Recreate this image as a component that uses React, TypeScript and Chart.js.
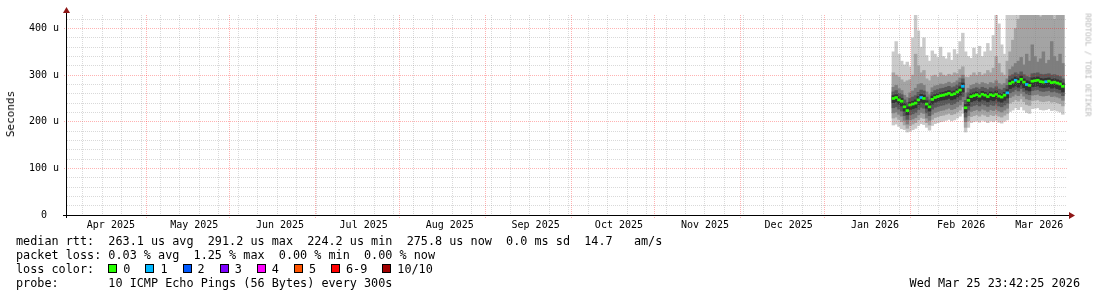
import React, { useEffect, useRef } from "react";
import { Chart, registerables } from "chart.js";

Chart.register(...registerables);

// ---- time axis (days from the left edge of the graph) ----
const axisStartDay = 0;
const axisEndDay = 360;
const monthLabels = [
  "Apr 2025", "May 2025", "Jun 2025", "Jul 2025", "Aug 2025", "Sep 2025",
  "Oct 2025", "Nov 2025", "Dec 2025", "Jan 2026", "Feb 2026", "Mar 2026",
];
const monthLabelDays = [15.8, 45.8, 76.7, 106.8, 137.8, 168.7, 198.7, 229.7, 259.8, 290.9, 321.9, 350.0];
const majorGridDays = [28.7, 58.4, 89.4, 119.6, 150.6, 181.6, 211.6, 242.5, 272.8, 303.7, 334.7];
const minorGridFirstDay = 5.65;
const minorGridStepDays = 7;
const minorGridCount = 51;

// ---- value axis (microseconds) ----
const yMax = 429;
const yGridStep = 20;
const yLabelStep = 100;
const yTopGrid = 420;

// ---- data: one column per day, starting at this day ----
const firstColumnDay = 297;

const median = [
  250, 252, 247, 244, 232, 224, 236, 238, 240, 247,
  252, 250, 238, 232, 248, 252, 254, 256, 257, 259,
  261, 258, 260, 264, 268, 276, 230, 246, 254, 256,
  258, 255, 259, 257, 254, 258, 256, 259, 255, 253,
  257, 262, 282, 285, 289, 286, 291, 285, 280, 278,
  287, 288, 289, 286, 285, 286, 287, 284, 285, 283,
  281, 276,
];
// pings lost (of 10) per column
const loss = [
  0, 0, 0, 0, 0, 0, 0, 0, 0, 0,
  1, 0, 0, 0, 0, 0, 0, 0, 0, 0,
  0, 0, 0, 0, 0, 1, 0, 0, 0, 0,
  0, 0, 0, 0, 0, 0, 0, 0, 0, 0,
  0, 1, 0, 0, 1, 0, 0, 0, 1, 0,
  0, 0, 0, 0, 0, 1, 0, 0, 0, 0,
  0, 0,
];
// sorted pings (ping1 = fastest ... ping10 = slowest)
const ping1 = [
  193, 195, 190, 185, 183, 178, 180, 183, 186, 192,
  196, 194, 188, 182, 192, 196, 198, 200, 201, 203,
  205, 202, 204, 208, 212, 218, 178, 188, 198, 200,
  202, 199, 203, 201, 198, 202, 200, 203, 199, 197,
  201, 204, 222, 225, 230, 226, 232, 225, 220, 218,
  228, 229, 230, 226, 225, 226, 228, 224, 225, 223,
  221, 216,
];
const ping2 = [
  208, 210, 205, 200, 193, 186, 192, 195, 198, 204,
  209, 207, 198, 193, 205, 209, 211, 213, 214, 216,
  218, 215, 217, 221, 225, 232, 188, 202, 211, 213,
  215, 212, 216, 214, 211, 215, 213, 216, 212, 210,
  214, 218, 240, 243, 247, 244, 249, 243, 237, 235,
  245, 246, 247, 244, 243, 244, 245, 242, 243, 241,
  239, 234,
];
const ping3 = [
  219, 221, 216, 212, 203, 195, 204, 206, 209, 215,
  220, 218, 208, 203, 216, 220, 222, 224, 225, 227,
  229, 226, 228, 232, 236, 243, 200, 213, 222, 224,
  226, 223, 227, 225, 222, 226, 224, 227, 223, 221,
  225, 229, 252, 255, 259, 256, 261, 255, 249, 247,
  257, 258, 259, 256, 255, 256, 257, 254, 255, 253,
  251, 246,
];
const ping4 = [
  230, 232, 227, 223, 213, 205, 215, 217, 220, 226,
  231, 229, 219, 213, 227, 231, 233, 235, 236, 238,
  240, 237, 239, 243, 247, 254, 210, 225, 233, 235,
  237, 234, 238, 236, 233, 237, 235, 238, 234, 232,
  236, 240, 262, 265, 269, 266, 271, 265, 260, 258,
  267, 268, 269, 266, 265, 266, 267, 264, 265, 263,
  261, 256,
];
const ping5 = [
  241, 243, 238, 234, 223, 215, 226, 228, 230, 237,
  242, 240, 229, 223, 238, 242, 244, 246, 247, 248,
  250, 247, 249, 253, 257, 264, 220, 235, 243, 245,
  247, 244, 248, 246, 243, 247, 245, 248, 244, 242,
  246, 251, 271, 274, 277, 274, 279, 273, 268, 266,
  275, 276, 277, 274, 273, 274, 275, 272, 273, 271,
  269, 264,
];
const ping6 = [
  256, 258, 253, 250, 239, 232, 242, 244, 247, 254,
  259, 257, 245, 239, 255, 258, 260, 262, 263, 265,
  267, 264, 266, 270, 275, 283, 237, 253, 260, 262,
  264, 261, 265, 263, 260, 264, 262, 266, 261, 259,
  263, 269, 289, 292, 296, 293, 298, 292, 288, 286,
  294, 295, 296, 293, 292, 293, 294, 291, 292, 290,
  288, 283,
];
const ping7 = [
  264, 267, 261, 258, 247, 241, 250, 253, 256, 263,
  268, 266, 253, 247, 263, 267, 269, 271, 272, 274,
  276, 273, 275, 279, 284, 292, 246, 262, 269, 271,
  273, 270, 274, 272, 269, 273, 271, 275, 270, 268,
  272, 278, 298, 301, 305, 302, 307, 301, 297, 295,
  303, 304, 305, 302, 301, 302, 303, 300, 301, 299,
  297, 292,
];
const ping8 = [
  274, 278, 271, 267, 257, 252, 262, 266, 272, 280,
  282, 278, 264, 258, 273, 277, 278, 281, 280, 282,
  285, 282, 284, 288, 294, 300, 262, 272, 278, 280,
  283, 280, 284, 282, 280, 284, 282, 288, 282, 279,
  282, 292, 312, 318, 325, 330, 338, 322, 345, 330,
  365, 340, 328, 335, 350, 325, 332, 372, 340, 330,
  345, 325,
];
const ping9 = [
  305, 300, 296, 290, 285, 288, 290, 300, 345, 320,
  305, 310, 292, 288, 298, 300, 296, 305, 300, 298,
  302, 300, 305, 303, 312, 318, 296, 295, 300, 305,
  300, 306, 300, 303, 310, 305, 315, 340, 325, 305,
  300, 330, 350, 375, 400, 420, 440, 440, 440, 440,
  440, 440, 440, 425, 440, 440, 440, 440, 420, 440,
  440, 440,
];
const ping10 = [
  350, 372, 345, 330, 322, 328, 318, 380, 430, 395,
  360, 380, 342, 330, 352, 345, 338, 360, 340, 335,
  348, 332, 355, 345, 372, 390, 350, 340, 336, 358,
  345, 362, 340, 350, 368, 352, 385, 430, 410, 365,
  345, 430, 440, 440, 440, 440, 440, 440, 440, 440,
  440, 440, 440, 440, 440, 440, 440, 440, 440, 440,
  440, 440,
];

// ---- legend texts ----
const medianLine = "median rtt:  263.1 us avg  291.2 us max  224.2 us min  275.8 us now  0.0 ms sd  14.7   am/s";
const lossLine = "packet loss: 0.03 % avg  1.25 % max  0.00 % min  0.00 % now";
const lossColorTitle = "loss color:";
const lossLabels = ["0", "1", "2", "3", "4", "5", "6-9", "10/10"];
const lossColors = ["#26ff00", "#00b8ff", "#0059ff", "#7e00ff", "#ff00ff", "#ff5500", "#ff0000", "#a10000"];
const probeLine = "probe:       10 ICMP Echo Pings (56 Bytes) every 300s";
const dateText = "Wed Mar 25 23:42:25 2026";
const yTitle = "Seconds";
const yUnitSuffix = " u";
const watermark = "RRDTOOL / TOBI OETIKER";

// ---- styles ----
const smokeGreys = ["#cacaca", "#a4a4a4", "#7e7e7e", "#585858", "#323232"];
const medianHalfThickness = 2.2; // in value units (µs)
const minorGridColor = "rgba(128,128,128,0.3)";
const majorGridColor = "rgba(255,0,0,0.3)";
const arrowColor = "#8e1616";
const mono = '"DejaVu Sans Mono", monospace';
const legendFontPx = 11.8;
const charW = 0.6021 * legendFontPx;

const W = 1097;
const H = 297;

const rrdGrid = {
  id: "rrdGrid",
  afterDatasetsDraw(chart: any) {
    const ctx = chart.ctx;
    const a = chart.chartArea;
    const xs = chart.scales.x;
    const ys = chart.scales.y;
    const align = (p: number) => Math.round(p - 0.5) + 0.5;
    ctx.save();
    ctx.lineWidth = 1;
    ctx.setLineDash([1, 1]);
    // horizontal lines
    for (let v = 0; v <= yTopGrid; v += yGridStep) {
      const major = v % yLabelStep === 0;
      const y = align(ys.getPixelForValue(v));
      ctx.strokeStyle = major ? majorGridColor : minorGridColor;
      ctx.beginPath();
      ctx.moveTo(major ? a.left - 3 : a.left, y);
      ctx.lineTo(a.right, y);
      ctx.stroke();
    }
    // vertical minor lines
    ctx.strokeStyle = minorGridColor;
    for (let k = 0; k < minorGridCount; k++) {
      const x = align(xs.getPixelForValue(minorGridFirstDay + k * minorGridStepDays));
      ctx.beginPath();
      ctx.moveTo(x, a.bottom + 1);
      ctx.lineTo(x, a.top);
      ctx.stroke();
    }
    // vertical major lines
    ctx.strokeStyle = majorGridColor;
    majorGridDays.forEach((d) => {
      const x = align(xs.getPixelForValue(d));
      ctx.beginPath();
      ctx.moveTo(x, a.bottom + 3);
      ctx.lineTo(x, a.top);
      ctx.stroke();
    });
    ctx.restore();
  },
};

const rrdAxes = {
  id: "rrdAxes",
  beforeDraw(chart: any) {
    const ctx = chart.ctx;
    ctx.save();
    ctx.fillStyle = "#ffffff";
    ctx.fillRect(0, 0, chart.width, chart.height);
    ctx.restore();
  },
  afterDraw(chart: any) {
    const ctx = chart.ctx;
    const a = chart.chartArea;
    ctx.save();
    ctx.strokeStyle = "#000";
    ctx.lineWidth = 1;
    ctx.beginPath();
    ctx.moveTo(a.left - 4, a.bottom + 0.5);
    ctx.lineTo(a.right + 2, a.bottom + 0.5);
    ctx.moveTo(a.left - 0.5, a.bottom + 3);
    ctx.lineTo(a.left - 0.5, a.top - 2);
    ctx.stroke();
    ctx.fillStyle = arrowColor;
    ctx.beginPath();
    ctx.moveTo(a.right + 2, a.bottom - 3);
    ctx.lineTo(a.right + 8, a.bottom + 0.5);
    ctx.lineTo(a.right + 2, a.bottom + 4);
    ctx.closePath();
    ctx.fill();
    ctx.beginPath();
    ctx.moveTo(a.left - 4, a.top - 2);
    ctx.lineTo(a.left - 0.5, a.top - 8);
    ctx.lineTo(a.left + 3, a.top - 2);
    ctx.closePath();
    ctx.fill();
    ctx.restore();
  },
};

export default function App() {
  const canvasRef = useRef<HTMLCanvasElement>(null);

  useEffect(() => {
    const canvas = canvasRef.current;
    if (!canvas) return;

    const columnDay = (i: number) => firstColumnDay + i + 0.5;
    const bands = [
      [ping1, ping10],
      [ping2, ping9],
      [ping3, ping8],
      [ping4, ping7],
      [ping5, ping6],
    ];
    const barCommon = {
      type: "bar" as const,
      borderWidth: 0,
      grouped: false,
      barPercentage: 1,
      categoryPercentage: 1,
    };
    const bandSets = bands.map(([lo, hi], k) => ({
      ...barCommon,
      label: `ping${k + 1}-ping${10 - k}`,
      data: lo.map((v, i) => ({ x: columnDay(i), y: [v, hi[i]] })),
      backgroundColor: smokeGreys[k],
      order: 10 - k,
    }));
    const medianSet = {
      ...barCommon,
      label: "median rtt",
      data: median.map((v, i) => ({ x: columnDay(i), y: [v - medianHalfThickness, v + medianHalfThickness] })),
      backgroundColor: loss.map((l) => lossColors[l]),
      order: 0,
    };

    const yTicks: number[] = [];
    for (let v = 0; v <= yTopGrid; v += yGridStep) yTicks.push(v);

    const tickFont = { family: mono, size: 10 };

    const chart = new Chart(canvas, {
      type: "bar",
      data: { datasets: [...bandSets, medianSet] as any },
      options: {
        responsive: false,
        animation: false,
        devicePixelRatio: 1,
        events: [],
        layout: { padding: { left: 0, right: 30, top: 15, bottom: 62 } },
        plugins: { legend: { display: false }, tooltip: { enabled: false }, title: { display: false } },
        scales: {
          x: {
            type: "linear",
            display: false,
            min: axisStartDay,
            max: axisEndDay,
            offset: false,
            grid: { offset: false, display: false },
          },
          xl: {
            type: "linear",
            position: "bottom",
            min: axisStartDay,
            max: axisEndDay,
            offset: false,
            afterBuildTicks: (s: any) => {
              s.ticks = monthLabelDays.map((v) => ({ value: v }));
            },
            afterFit: (s: any) => {
              s.height = 20;
            },
            grid: { display: false, drawTicks: false },
            border: { display: false },
            ticks: {
              autoSkip: false,
              maxRotation: 0,
              minRotation: 0,
              padding: 4,
              color: "#000",
              font: tickFont,
              callback: (_v: any, i: number) => monthLabels[i] ?? "",
            },
          },
          y: {
            type: "linear",
            position: "left",
            min: 0,
            max: yMax,
            afterBuildTicks: (s: any) => {
              s.ticks = yTicks.map((v) => ({ value: v }));
            },
            afterFit: (s: any) => {
              s.width = 67;
            },
            border: { display: false },
            grid: { display: false, drawTicks: false },
            ticks: {
              autoSkip: false,
              padding: 8,
              color: "#000",
              font: tickFont,
              callback: (v: any) => {
                const n = Number(v);
                if (n % yLabelStep !== 0) return "";
                // zero has no unit prefix, but keeps the unit column blank
                return n === 0 ? "0  " : `${n}${yUnitSuffix}`;
              },
            },
          },
        },
      } as any,
      plugins: [rrdGrid, rrdAxes],
    });

    return () => chart.destroy();
  }, []);

  const textStyle = (left: number, centerY: number): React.CSSProperties => ({
    position: "absolute",
    left,
    top: centerY - 7,
    height: 14,
    lineHeight: "14px",
    fontFamily: mono,
    fontSize: `${legendFontPx}px`,
    whiteSpace: "pre",
    color: "#000",
  });

  // loss colour legend positions
  const boxes: { x: number; label: string; color: string }[] = [];
  let bx = 16 + 13 * charW;
  lossLabels.forEach((label, i) => {
    boxes.push({ x: bx, label, color: lossColors[i] });
    bx += 15 + label.length * charW + 15;
  });

  return (
    <div style={{ position: "absolute", left: 0, top: 0, width: W, height: H, background: "#fff", overflow: "hidden" }}>
      <canvas ref={canvasRef} width={W} height={H} style={{ position: "absolute", left: 0, top: 0, width: W, height: H }} />
      <div
        style={{
          position: "absolute",
          left: 11,
          top: 114,
          transform: "translate(-50%, -50%) rotate(-90deg)",
          fontFamily: mono,
          fontSize: "11px",
          lineHeight: "12px",
          whiteSpace: "pre",
          color: "#000",
        }}
      >
        {yTitle}
      </div>
      <div
        style={{
          position: "absolute",
          left: 1088,
          top: 65,
          transform: "translate(-50%, -50%) rotate(90deg)",
          fontFamily: mono,
          fontSize: "7.8px",
          lineHeight: "9px",
          whiteSpace: "pre",
          color: "#b8b8b8",
        }}
      >
        {watermark}
      </div>
      <div style={textStyle(16, 241)}>{medianLine}</div>
      <div style={textStyle(16, 255)}>{lossLine}</div>
      <div style={textStyle(16, 269)}>{lossColorTitle}</div>
      {boxes.map((b) => (
        <React.Fragment key={b.label}>
          <div
            style={{
              position: "absolute",
              left: Math.round(b.x),
              top: 264,
              width: 7,
              height: 7,
              background: b.color,
              border: "1px solid #000",
            }}
          />
          <div style={textStyle(b.x + 15, 269)}>{b.label}</div>
        </React.Fragment>
      ))}
      <div style={textStyle(16, 283)}>{probeLine}</div>
      <div style={{ ...textStyle(0, 283), left: undefined, right: W - 1080, textAlign: "right" }}>{dateText}</div>
    </div>
  );
}
